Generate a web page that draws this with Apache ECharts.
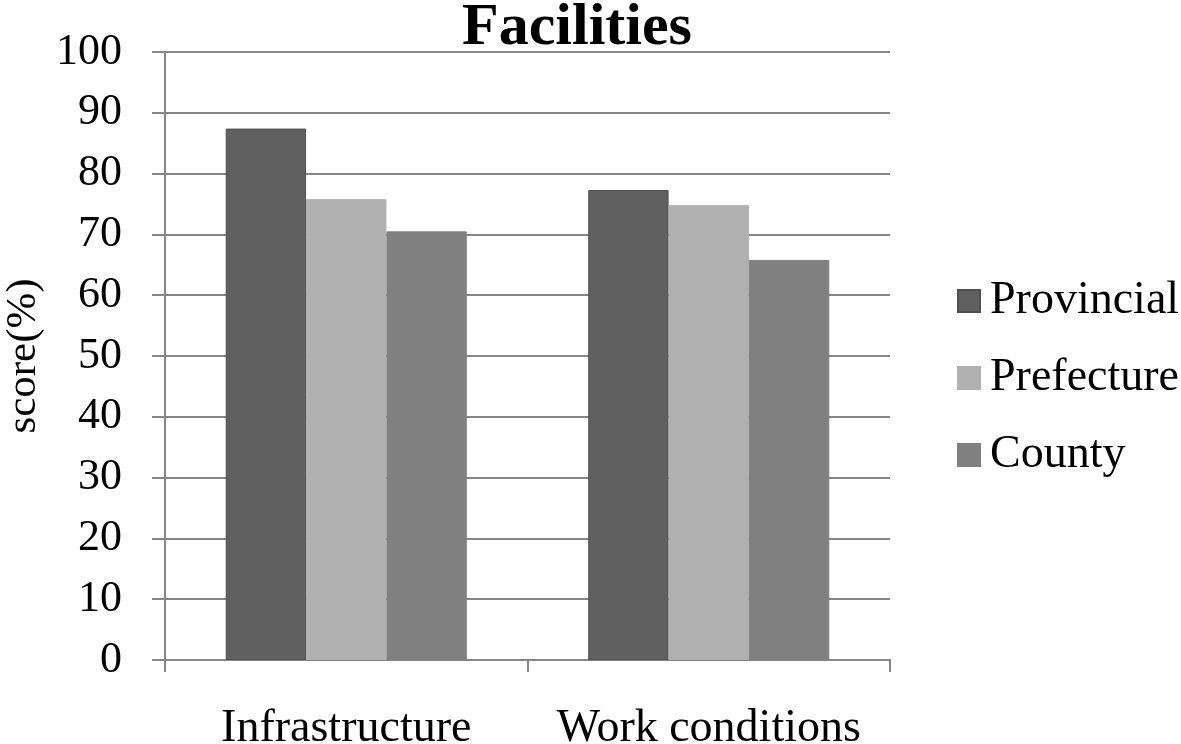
<!DOCTYPE html>
<html><head><meta charset="utf-8">
<script src="https://cdn.jsdelivr.net/npm/echarts@6/dist/echarts.min.js"></script>
<style>html,body{margin:0;padding:0;background:#fff}#c{width:1181px;height:744px}</style>
</head><body><div id="c"></div>
<script>
const categories = ['Infrastructure', 'Work conditions'];
const provincial = [87.4, 77.3];
const prefecture = [75.8, 74.8];
const county = [70.5, 65.8];
const seriesNames = ['Provincial', 'Prefecture', 'County'];
const seriesColors = ['#606060', '#b0b0b0', '#808080'];
const F = '"Liberation Serif","Times New Roman",serif';
const chart = echarts.init(document.getElementById('c'));
const data = [provincial, prefecture, county];
chart.setOption({
  animation: false,
  backgroundColor: '#fff',
  title: { text: 'Facilities', left: 572, top: -7, textAlign: 'center',
    textStyle: { fontFamily: F, fontSize: 60, fontWeight: 'bold', color: '#000' } },
  legend: {
    orient: 'vertical', left: 952, top: 273, itemGap: 31, itemWidth: 22, itemHeight: 22,
    icon: 'rect', textStyle: { fontFamily: F, fontSize: 46, color: '#000', padding: [0,0,0,5] },
    data: seriesNames
  },
  grid: { left: 165, right: 291, top: 52, bottom: 84, containLabel: false, outerBoundsMode: 'none' },
  xAxis: {
    type: 'category', data: categories,
    axisLine: { lineStyle: { color: '#868686', width: 2 } },
    axisTick: { show: true, length: 12, alignWithLabel: false, lineStyle: { color: '#868686', width: 2 } },
    axisLabel: { fontFamily: F, fontSize: 46, color: '#000', margin: 46, interval: 0, hideOverlap: false }
  },
  yAxis: {
    type: 'value', min: 0, max: 100, interval: 10,
    name: 'score(%)', nameLocation: 'middle', nameGap: 120, nameRotate: 90,
    nameTextStyle: { fontFamily: F, fontSize: 43, color: '#000' },
    axisLine: { show: true, lineStyle: { color: '#868686', width: 2 } },
    axisTick: { show: true, length: 13, lineStyle: { color: '#868686', width: 2 } },
    axisLabel: { fontFamily: F, fontSize: 44, color: '#000', margin: 43 },
    splitLine: { lineStyle: { color: '#868686', width: 2 } }
  },
  series: seriesNames.map((n, i) => ({
    name: n, type: 'bar', data: data[i],
    barGap: '0%', barCategoryGap: '33.5%',
    itemStyle: { color: seriesColors[i], borderColor: i === 0 ? '#505050' : seriesColors[i], borderWidth: 1 }
  }))
});
</script></body></html>
